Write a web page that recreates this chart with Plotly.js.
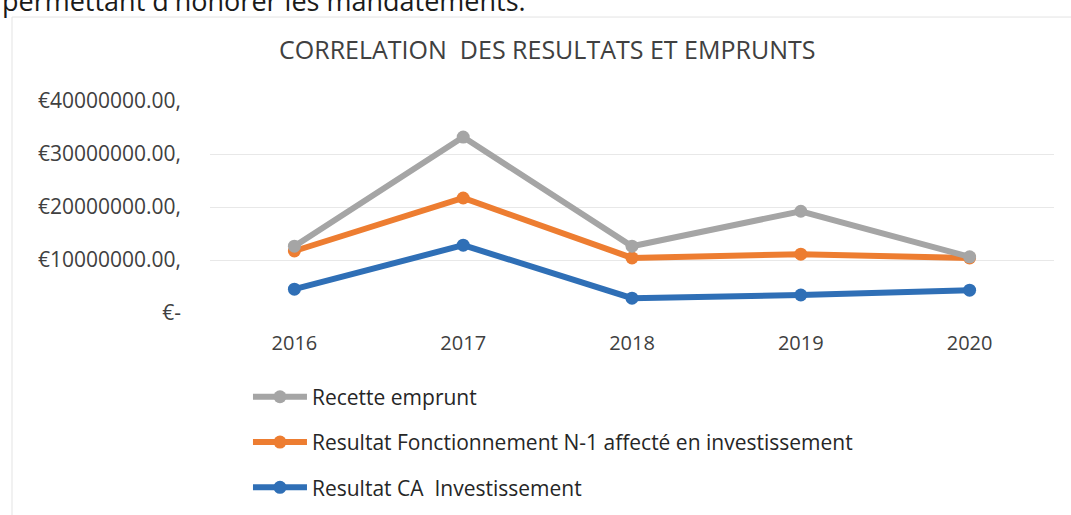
<!DOCTYPE html>
<html lang="fr">
<head>
    <meta charset="UTF-8">
    <title>Correlation des resultats et emprunts</title>
    <script src="https://cdn.plot.ly/plotly-3.0.1.min.js" charset="utf-8"></script>
    <style>
        body { margin: 0; background: #fff; }
        #chart { width: 1071px; height: 515px; }
    </style>
</head>
<body>
<div id="chart"></div>
<script>
// Data
const years = ['2016', '2017', '2018', '2019', '2020'];
const recetteEmprunt = [12600000, 33200000, 12600000, 19200000, 10600000];
const resultatFonct = [11700000, 21700000, 10400000, 11100000, 10400000];
const resultatCA = [4500000, 12800000, 2800000, 3400000, 4300000];
const yTickVals = [0, 10000000, 20000000, 30000000, 40000000];
const yTickText = ['€-', '€10000000.00,', '€20000000.00,', '€30000000.00,', '€40000000.00,'];

const font = 'Open Sans, Noto Sans, sans-serif';

function series(name, y, color, rank) {
    return {
        x: years,
        y: y,
        name: name,
        legendgroup: name,
        legendrank: rank,
        mode: 'lines+markers',
        line: { color: color, width: 6 },
        marker: { color: color, size: 13 },
        hoverinfo: 'x+y'
    };
}

// blue drawn first so grey sits on top; legend lists grey first
const data = [
    series('Resultat CA  Investissement', resultatCA, '#2F6FB6', 3),
    series('Resultat Fonctionnement N-1 affecté en investissement', resultatFonct, '#ED7D31', 2),
    series('Recette emprunt', recetteEmprunt, '#A5A5A5', 1)
];

const layout = {
    width: 1071,
    height: 515,
    margin: { l: 210, r: 17, t: 101, b: 202, autoexpand: false },
    paper_bgcolor: '#fff',
    plot_bgcolor: '#fff',
    font: { family: font, color: '#404040', size: 19 },
    title: {
        text: 'CORRELATION  DES RESULTATS ET EMPRUNTS',
        font: { family: font, size: 25, color: '#404040' },
        xref: 'container', yref: 'container',
        x: 0.511, y: 0.903, xanchor: 'center', yanchor: 'middle'
    },
    xaxis: {
        type: 'category',
        range: [-0.5, 4.5],
        showgrid: false,
        zeroline: false,
        showline: false,
        ticks: '',
        tickfont: { size: 20 },
        ticklabelstandoff: 16
    },
    yaxis: {
        range: [0, 40000000],
        tickvals: yTickVals,
        ticktext: yTickText,
        showgrid: true,
        gridcolor: '#E8E8E8',
        gridwidth: 1,
        zeroline: false,
        showline: false,
        ticks: '',
        tickfont: { size: 21 },
        ticklabelstandoff: 28
    },
    legend: {
        x: 0.045, y: -0.3, xanchor: 'left', yanchor: 'top',
        orientation: 'v',
        traceorder: 'grouped',
        tracegroupgap: 15,
        itemwidth: 54,
        font: { size: 21, color: '#262626' }
    },
    shapes: [{
        type: 'rect', xref: 'paper', yref: 'paper',
        x0: -0.2346, x1: 1.1, y0: -1.2, y1: 1.396,
        line: { color: '#E3E3E3', width: 1 },
        layer: 'below'
    }],
    annotations: [{
        text: "permettant d'honorer les mandatements.",
        xref: 'paper', yref: 'paper',
        x: -0.249, y: 1.476, xanchor: 'left', yanchor: 'middle',
        showarrow: false,
        font: { family: font, size: 27, color: '#1a1a1a' }
    }]
};

Plotly.newPlot('chart', data, layout, { displayModeBar: false, staticPlot: true });
</script>
</body>
</html>
